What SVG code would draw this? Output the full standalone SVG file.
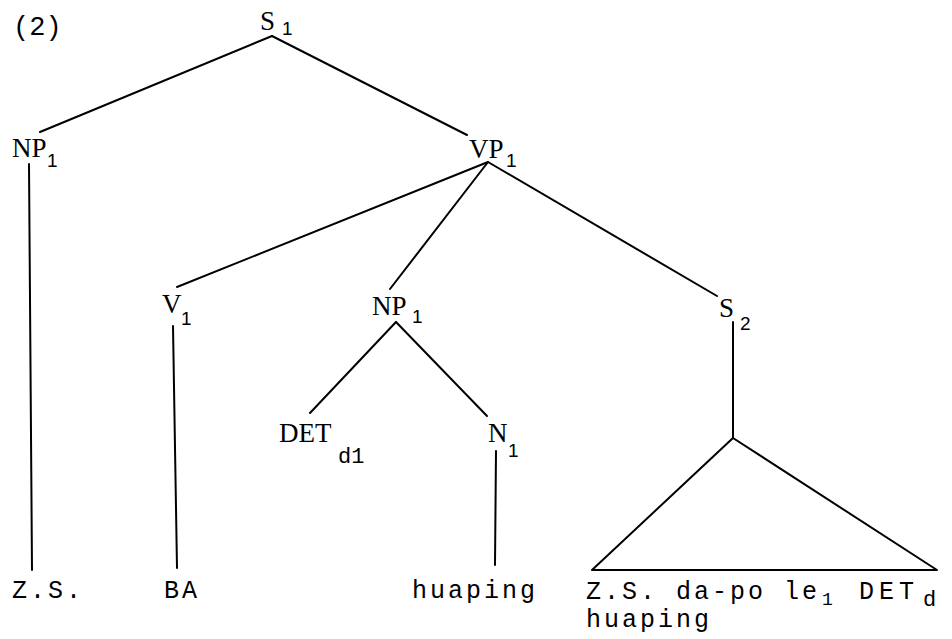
<svg xmlns="http://www.w3.org/2000/svg" width="952" height="639" viewBox="0 0 952 639">
<style>
.lbl{font-family:"Liberation Serif",serif;font-size:27px;fill:#000}
.sub{font-family:"Liberation Sans",sans-serif;font-size:19px;fill:#000}
.subm{font-family:"Liberation Mono",monospace;font-size:22px;fill:#000}
.term{font-family:"Liberation Mono",monospace;font-size:25px;letter-spacing:3px;fill:#000}
.tsub{font-family:"Liberation Mono",monospace;font-size:18px;fill:#000}
.edge{stroke:#000;stroke-width:2;fill:none;stroke-linecap:round;stroke-linejoin:round}
</style>
<rect width="952" height="639" fill="#fff"/>
<text class="term" x="13" y="35" style="font-size:27px;letter-spacing:0px">(2)</text>
<g id="connectors">
<line class="edge" x1="272" y1="36" x2="40" y2="132"/>
<line class="edge" x1="272" y1="36" x2="467" y2="135"/>
<line class="edge" x1="29" y1="164" x2="32" y2="570"/>
<line class="edge" x1="488" y1="162" x2="177" y2="287"/>
<line class="edge" x1="488" y1="162" x2="390" y2="289"/>
<line class="edge" x1="488" y1="162" x2="717" y2="296"/>
<line class="edge" x1="173" y1="326" x2="177" y2="568"/>
<line class="edge" x1="396" y1="322" x2="310" y2="413"/>
<line class="edge" x1="396" y1="322" x2="487" y2="416"/>
<line class="edge" x1="496" y1="451" x2="495" y2="565"/>
<line class="edge" x1="733" y1="322" x2="733" y2="438"/>
<polygon class="edge" points="733,438 592,570 937,570"/>
</g>
<g id="S1"><text class="lbl" x="260" y="30">S</text><text class="sub" x="282" y="35">1</text></g>
<g id="NP1a"><text class="lbl" x="12" y="157">NP</text><text class="sub" x="47" y="167">1</text></g>
<g id="VP1"><text class="lbl" x="469" y="158">VP</text><text class="sub" x="506" y="167">1</text></g>
<g id="V1"><text class="lbl" x="162" y="313">V</text><text class="sub" x="181" y="325">1</text></g>
<g id="NP1b"><text class="lbl" x="372" y="315">NP</text><text class="sub" x="412" y="323">1</text></g>
<g id="S2"><text class="lbl" x="719" y="317">S</text><text class="sub" x="740" y="330">2</text></g>
<g id="DET"><text class="lbl" x="279" y="442">DET</text><text class="subm" x="338" y="463">d1</text></g>
<g id="N1"><text class="lbl" x="488" y="442">N</text><text class="sub" x="508" y="457">1</text></g>
<g id="ZS"><text class="term" x="12" y="598">Z.S.</text></g>
<g id="BA"><text class="term" x="164" y="598">BA</text></g>
<g id="huaping"><text class="term" x="412" y="598">huaping</text></g>
<g id="S2yield">
<text class="term" x="586" y="599">Z.S. da-po le</text><text class="tsub" x="822" y="605">1</text><text class="term" x="859" y="599" style="letter-spacing:5px">DET</text><text class="term" x="923" y="606" style="font-size:22px">d</text>
<text class="term" x="586" y="627">huaping</text>
</g>
</svg>
